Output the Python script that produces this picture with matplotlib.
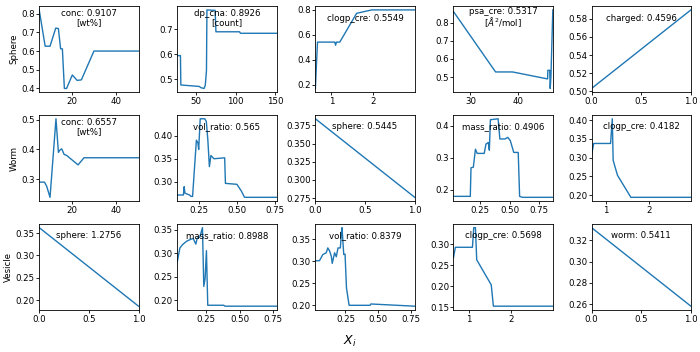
import numpy as np
import matplotlib
matplotlib.use("Agg")
from matplotlib import pyplot as plt
from matplotlib.ticker import MultipleLocator

# partial dependence curves
# row 1: Sphere
sph_conc_x = [5, 7.7, 9.9, 12.5, 13.7, 14.7, 15.5, 16.4, 17.4, 20, 22.2, 24.1, 29.8, 50]
sph_conc_y = [0.82, 0.626, 0.626, 0.723, 0.72, 0.612, 0.612, 0.40, 0.40, 0.472, 0.443, 0.446, 0.60, 0.60]

sph_dp_x = [26, 30, 30.5, 54, 56, 60, 61.5, 63, 63.6, 74, 75, 105, 106, 152]
sph_dp_y = [0.594, 0.594, 0.476, 0.47, 0.465, 0.462, 0.475, 0.533, 0.778, 0.776, 0.69, 0.69, 0.684, 0.684]

sph_clogp_x = [0.62, 0.67, 1.08, 1.1, 1.12, 1.2, 1.6, 1.96, 2.98]
sph_clogp_y = [0.17, 0.54, 0.54, 0.515, 0.54, 0.54, 0.77, 0.797, 0.797]

sph_psa_x = [26.4, 35.3, 38.9, 46.2, 46.3, 46.35, 46.75, 46.85, 47.0, 47.4]
sph_psa_y = [0.861, 0.528, 0.528, 0.49, 0.49, 0.537, 0.537, 0.437, 0.5, 0.87]

sph_charged_x = [0, 1]
sph_charged_y = [0.503, 0.59]

# row 2: Worm
wrm_conc_x = [5, 7.4, 8.4, 9.9, 12.6, 13.7, 14.4, 15.2, 16.3, 17.4, 22.6, 25.3, 50]
wrm_conc_y = [0.29, 0.29, 0.276, 0.239, 0.503, 0.39, 0.398, 0.402, 0.383, 0.38, 0.348, 0.372, 0.372]

wrm_vol_x = [0.11, 0.15, 0.155, 0.16, 0.19, 0.20, 0.21, 0.235, 0.245, 0.25, 0.26, 0.29, 0.30, 0.31,
             0.32, 0.33, 0.35, 0.42, 0.425, 0.50, 0.51, 0.53, 0.55, 0.76]
wrm_vol_y = [0.272, 0.272, 0.29, 0.276, 0.272, 0.269, 0.269, 0.39, 0.384, 0.37, 0.436, 0.436, 0.43,
             0.39, 0.333, 0.357, 0.35, 0.352, 0.297, 0.295, 0.29, 0.28, 0.267, 0.267]

wrm_sphere_x = [0, 1]
wrm_sphere_y = [0.384, 0.276]

wrm_mass_x = [0.02, 0.164, 0.17, 0.19, 0.208, 0.223, 0.283, 0.298, 0.318, 0.327, 0.336, 0.402,
              0.417, 0.461, 0.485, 0.506, 0.536, 0.574, 0.586, 0.61, 0.87]
wrm_mass_y = [0.179, 0.179, 0.268, 0.27, 0.326, 0.313, 0.313, 0.342, 0.347, 0.323, 0.418, 0.421,
              0.358, 0.358, 0.363, 0.353, 0.316, 0.316, 0.179, 0.176, 0.176]

wrm_clogp_x = [0.66, 0.71, 1.1, 1.14, 1.16, 1.26, 1.57, 2.96]
wrm_clogp_y = [0.307, 0.338, 0.338, 0.404, 0.293, 0.253, 0.194, 0.194]

# row 3: Vesicle
ves_sphere_x = [0, 1]
ves_sphere_y = [0.362, 0.187]

ves_mass_x = [0.03, 0.05, 0.07, 0.1, 0.13, 0.15, 0.17, 0.18, 0.2, 0.22, 0.23, 0.24, 0.25, 0.26,
              0.27, 0.28, 0.29, 0.38, 0.39, 0.78]
ves_mass_y = [0.282, 0.311, 0.318, 0.325, 0.329, 0.331, 0.319, 0.331, 0.334, 0.354, 0.229, 0.246,
              0.305, 0.189, 0.189, 0.189, 0.189, 0.189, 0.187, 0.187]

ves_vol_x = [0.02, 0.051, 0.077, 0.103, 0.115, 0.129, 0.142, 0.149, 0.167, 0.18, 0.193, 0.211,
             0.219, 0.224, 0.229, 0.237, 0.247, 0.258, 0.278, 0.439, 0.444, 0.78]
ves_vol_y = [0.301, 0.301, 0.315, 0.319, 0.33, 0.323, 0.311, 0.295, 0.319, 0.31, 0.33, 0.33,
             0.364, 0.376, 0.352, 0.315, 0.316, 0.239, 0.2, 0.2, 0.203, 0.198]

ves_clogp_x = [0.646, 0.69, 1.09, 1.12, 1.16, 1.19, 1.53, 1.58, 2.97]
ves_clogp_y = [0.268, 0.293, 0.293, 0.34, 0.34, 0.263, 0.203, 0.152, 0.152]

ves_worm_x = [0, 1]
ves_worm_y = [0.332, 0.258]

row_names = ["Sphere", "Worm", "Vesicle"]

panels = [
    [(sph_conc_x, sph_conc_y, "conc: 0.9107\n[wt%]"),
     (sph_dp_x, sph_dp_y, "dp_cna: 0.8926\n[count]"),
     (sph_clogp_x, sph_clogp_y, "clogp_cre: 0.5549"),
     (sph_psa_x, sph_psa_y, "psa_cre: 0.5317\n[$\\AA^2$/mol]"),
     (sph_charged_x, sph_charged_y, "charged: 0.4596")],
    [(wrm_conc_x, wrm_conc_y, "conc: 0.6557\n[wt%]"),
     (wrm_vol_x, wrm_vol_y, "vol_ratio: 0.565"),
     (wrm_sphere_x, wrm_sphere_y, "sphere: 0.5445"),
     (wrm_mass_x, wrm_mass_y, "mass_ratio: 0.4906"),
     (wrm_clogp_x, wrm_clogp_y, "clogp_cre: 0.4182")],
    [(ves_sphere_x, ves_sphere_y, "sphere: 1.2756"),
     (ves_mass_x, ves_mass_y, "mass_ratio: 0.8988"),
     (ves_vol_x, ves_vol_y, "vol_ratio: 0.8379"),
     (ves_clogp_x, ves_clogp_y, "clogp_cre: 0.5698"),
     (ves_worm_x, ves_worm_y, "worm: 0.5411")],
]

# tick steps (x, y) for each panel
steps = [
    [(20, 0.1), (50, 0.1), (1, 0.2), (10, 0.1), (0.5, 0.02)],
    [(20, 0.1), (0.25, 0.05), (0.5, 0.025), (0.25, 0.1), (1, 0.05)],
    [(0.5, 0.05), (0.25, 0.05), (0.25, 0.05), (1, 0.05), (0.5, 0.02)],
]

fs = 6.2

fig, axes = plt.subplots(3, 5, figsize=(7, 3.52), dpi=100)
fig.subplots_adjust(left=0.056, right=0.987, top=0.983, bottom=0.119, wspace=0.39, hspace=0.26)

for r in range(3):
    for c in range(5):
        ax = axes[r, c]
        x, y, label = panels[r][c]
        ax.plot(x, y, color="#1f77b4", lw=1.0)
        ax.set_xlim(min(x), max(x))
        ax.margins(y=0.05)
        ax.xaxis.set_major_locator(MultipleLocator(steps[r][c][0]))
        ax.yaxis.set_major_locator(MultipleLocator(steps[r][c][1]))
        ax.tick_params(labelsize=fs, length=2, width=0.6, pad=1.2)
        for s in ax.spines.values():
            s.set_linewidth(0.6)
        ax.text(0.5, 0.86, label, transform=ax.transAxes, ha="center", va="center",
                fontsize=fs, linespacing=1.0)
    axes[r, 0].set_ylabel(row_names[r], fontsize=fs, labelpad=2)

fig.text(0.5, 0.03, "$X_i$", ha="center", va="center", fontsize=9)

fig.savefig("out.png", dpi=100)
